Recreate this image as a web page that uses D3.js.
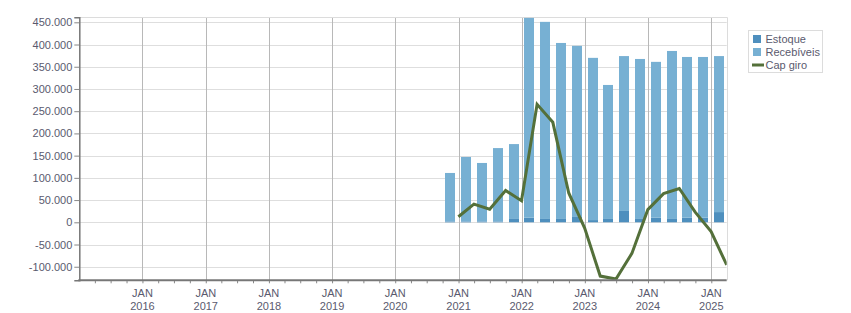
<!DOCTYPE html>
<html>
<head>
<meta charset="utf-8">
<script src="https://cdn.jsdelivr.net/npm/d3@7.9.0/dist/d3.min.js"></script>
<style>
  body { margin: 0; background: #fff; }
  svg { display: block; font-family: "Liberation Sans", Arial, sans-serif; }
  .tick text { fill: #5a5a6e; font-size: 11px; }
</style>
</head>
<body>
<svg id="chart" width="851" height="313"></svg>
<script>
// === Data (quarter-end dates) ===
const quarterEnds = [
  '2020-12-31', '2021-03-31', '2021-06-30', '2021-09-30', '2021-12-31',
  '2022-03-31', '2022-06-30', '2022-09-30', '2022-12-31',
  '2023-03-31', '2023-06-30', '2023-09-30', '2023-12-31',
  '2024-03-31', '2024-06-30', '2024-09-30', '2024-12-31',
  '2025-03-31'
];
const estoque = [2000, 2000, 2000, 2000, 7500, 10500, 7500, 7500, 12000,
  5000, 7500, 25500, 7500, 10500, 7500, 10500, 10500, 23000];
const recebiveis = [109000, 145000, 131500, 165000, 168500, 449500, 443500, 396000, 385000,
  365000, 301500, 348500, 360000, 350500, 378000, 361500, 361500, 351000];
const capGiro = [12500, 41000, 29500, 71500, 48500, 265500, 225000, 66000, -13000,
  -121000, -127500, -70000, 28500, 64500, 76000, 23000, -21000, -96000];
const yTicks = [-100000, -50000, 0, 50000, 100000, 150000, 200000, 250000, 300000, 350000, 400000, 450000];
const seriesNames = ['Estoque', 'Recebíveis', 'Cap giro'];
const colors = ['#4e8fbe', '#77b0d3', '#54703a'];

const parse = d3.timeParse('%Y-%m-%d');
const rows = quarterEnds.map((d, i) => {
  const end = parse(d);
  const start = d3.timeMonth.offset(d3.timeDay.offset(end, 1), -3);
  return { end, start, estoque: estoque[i], recebiveis: recebiveis[i], cap: capGiro[i] };
});

const L = 79.3, R = 726.7, T = 17.3, B = 280.3;
const svg = d3.select('#chart');

const x = d3.scaleTime()
  .domain([new Date(2015, 0, 1), new Date(2025, 2, 31)])
  .range([L, R]);
const y = d3.scaleLinear()
  .domain([-130500, 461250])
  .range([B, T]);

const fmt = d3.formatLocale({ decimal: ',', thousands: '.', grouping: [3], currency: ['', ''], minus: '-' }).format(',d');

// === Grid ===
svg.append('g')
  .selectAll('line')
  .data(yTicks)
  .join('line')
  .attr('x1', L).attr('x2', R)
  .attr('y1', d => Math.round(y(d)) + 0.5).attr('y2', d => Math.round(y(d)) + 0.5)
  .attr('stroke', '#dedede');

const years = d3.timeYear.range(new Date(2016, 0, 1), new Date(2025, 1, 1));
svg.append('g')
  .selectAll('line')
  .data(years)
  .join('line')
  .attr('x1', d => Math.round(x(d)) + 0.5).attr('x2', d => Math.round(x(d)) + 0.5)
  .attr('y1', T).attr('y2', B)
  .attr('stroke', '#b8b8b8');

// plot border (top / right)
svg.append('path')
  .attr('d', `M${L},${Math.round(T) + 0.5}H${Math.round(R) + 0.5}V${B}`)
  .attr('fill', 'none')
  .attr('stroke', '#dcdcdc');

// === Stacked bars ===
const stack = d3.stack().keys(['estoque', 'recebiveis'])(rows);
const bars = svg.append('g').attr('clip-path', 'url(#clip)');
svg.append('clipPath').attr('id', 'clip')
  .append('rect').attr('x', L).attr('y', T).attr('width', R - L).attr('height', B - T);

stack.forEach((layer, k) => {
  bars.append('g')
    .attr('fill', colors[k])
    .selectAll('rect')
    .data(layer)
    .join('rect')
    .attr('x', d => {
      const x0 = x(d.data.start), x1 = x(d.data.end);
      return Math.round((x0 + x1) / 2 - 5);
    })
    .attr('width', 10)
    .attr('y', d => y(d[1]))
    .attr('height', d => Math.max(0, y(d[0]) - y(d[1])));
});

// === Cap giro line ===
const line = d3.line()
  .x(d => x(d.end))
  .y(d => y(d.cap));
bars.append('path')
  .datum(rows)
  .attr('d', line)
  .attr('fill', 'none')
  .attr('stroke', colors[2])
  .attr('stroke-width', 3)
  .attr('stroke-linejoin', 'miter');

// === Axes ===
const yAxis = svg.append('g')
  .attr('transform', `translate(${L},0)`)
  .call(d3.axisLeft(y).tickValues(yTicks).tickFormat(fmt).tickSize(5).tickPadding(2));
yAxis.select('.domain').attr('stroke', '#777').attr('stroke-width', 1.5);
yAxis.selectAll('.tick line').attr('stroke', '#888');

const quarters = d3.timeMonth.every(3).range(new Date(2015, 3, 1), new Date(2025, 2, 1));
const xAxis = svg.append('g')
  .attr('transform', `translate(0,${B})`)
  .call(d3.axisBottom(x).tickValues(quarters).tickSize(3).tickFormat(''));
xAxis.select('.domain').remove();
xAxis.selectAll('.tick line').attr('stroke', '#888');

svg.append('line')
  .attr('x1', L - 1).attr('x2', R).attr('y1', B).attr('y2', B)
  .attr('stroke', '#777').attr('stroke-width', 2);

const labels = svg.append('g')
  .selectAll('text')
  .data(years)
  .join('text')
  .attr('text-anchor', 'middle')
  .attr('fill', '#5a5a6e')
  .style('font-size', '11px');
labels.append('tspan')
  .attr('x', d => x(d))
  .attr('y', 297)
  .text('JAN');
labels.append('tspan')
  .attr('x', d => x(d))
  .attr('y', 310)
  .text(d => d3.timeFormat('%Y')(d));

// === Legend ===
const legend = svg.append('g');
legend.append('rect')
  .attr('x', 748.5).attr('y', 30.5).attr('width', 74).attr('height', 42)
  .attr('fill', '#fff').attr('stroke', '#dcdcdc');

seriesNames.forEach((name, i) => {
  const cy = 39 + i * 13;
  if (i < 2) {
    legend.append('rect')
      .attr('x', 753).attr('y', cy - 4).attr('width', 8).attr('height', 8)
      .attr('fill', colors[i]);
  } else {
    legend.append('line')
      .attr('x1', 752).attr('x2', 764).attr('y1', cy).attr('y2', cy)
      .attr('stroke', colors[i]).attr('stroke-width', 3);
  }
  legend.append('text')
    .attr('x', 765.5).attr('y', cy + 4)
    .attr('fill', '#5a5a6e')
    .style('font-size', '11px')
    .text(name);
});
</script>
</body>
</html>
